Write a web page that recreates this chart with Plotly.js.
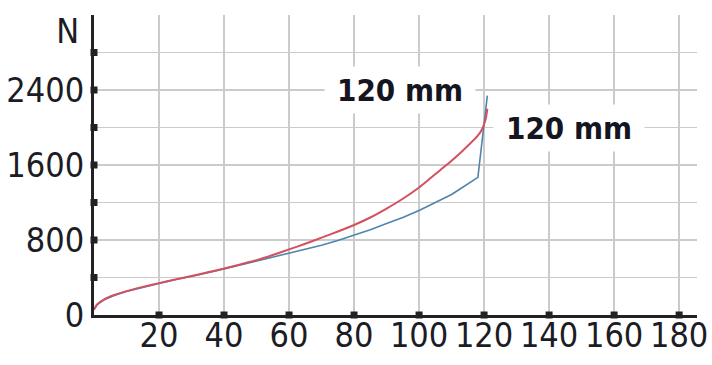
<!DOCTYPE html>
<html>
<head>
<meta charset="utf-8">
<script src="https://cdn.plot.ly/plotly-3.0.1.min.js"></script>
<style>
html,body{margin:0;padding:0;background:#fff;}
#chart{width:712px;height:365px;}
#chart svg text{font-stretch:condensed !important;}
</style>
</head>
<body>
<div id="chart"></div>
<script>
// Series: red curve
const redX = [0, 1, 3, 6, 10, 15, 20, 25, 30, 35, 40, 45, 50, 55, 60, 65, 70, 75, 80, 85, 90, 95, 100, 103, 106.5, 110, 112.6, 115, 118, 119.5, 120.5, 121];
const redY = [60, 115, 165, 210, 255, 300, 340, 380, 415, 455, 495, 540, 585, 640, 700, 760, 825, 890, 960, 1040, 1135, 1240, 1360, 1445, 1545, 1645, 1725, 1805, 1910, 1990, 2090, 2200];
// Series: blue curve
const blueX = [0, 1, 3, 6, 10, 15, 20, 25, 30, 35, 40, 45, 50, 55, 60, 65, 70, 75, 80, 85, 90, 95, 100, 103, 106.5, 110, 112.6, 115, 118.1, 121];
const blueY = [55, 110, 160, 205, 250, 295, 335, 375, 410, 450, 490, 532, 575, 615, 655, 700, 745, 795, 850, 910, 975, 1040, 1115, 1165, 1220, 1285, 1344, 1400, 1468, 2340];
// Ticks
const xTickVals = [20, 40, 60, 80, 100, 120, 140, 160, 180];
const xTickText = ['20', '40', '60', '80', '100', '120', '140', '160', '180'];
const yTickVals = [0, 400, 800, 1200, 1600, 2000, 2400, 2800];
const yTickText = ['0', '', '800', '', '1600', '', '2400', ''];
// Labels
const labelText = ['120 mm', '120 mm'];
const labelX = [94.2, 146];
const labelY = [2400, 2000];
const unitLabel = 'N';

const FONT = '"DejaVu Sans", sans-serif';
const INK = '#1c1c24';

const traces = [
  {x: blueX, y: blueY, mode: 'lines', line: {color: '#4f84ad', width: 1.6}, hoverinfo: 'skip'},
  {x: redX, y: redY, mode: 'lines', line: {color: '#d4505e', width: 2, shape: 'spline', smoothing: 0.6}, hoverinfo: 'skip'},
  {x: xTickVals, y: xTickVals.map(() => 0), mode: 'markers', cliponaxis: false,
   marker: {symbol: 'square', size: 7, color: '#222'}, hoverinfo: 'skip'},
  {x: yTickVals.slice(1).map(() => 0), y: yTickVals.slice(1), mode: 'markers', cliponaxis: false,
   marker: {symbol: 'square', size: 7, color: '#222'}, hoverinfo: 'skip'}
];

const annotations = labelText.map((t, i) => ({
  x: labelX[i], y: labelY[i], xref: 'x', yref: 'y', text: '<b>' + t + '</b>', showarrow: false,
  font: {family: FONT, size: 31, color: '#15151f'}, bgcolor: '#ffffff', borderpad: 5
}));
annotations.push({
  x: 0, y: 1, xref: 'paper', yref: 'paper', text: unitLabel, showarrow: false,
  xanchor: 'right', yanchor: 'middle', xshift: -12, yshift: -16,
  font: {family: FONT, size: 34, color: INK}
});

const layout = {
  width: 712, height: 365,
  margin: {l: 94, r: 15, t: 15, b: 50},
  paper_bgcolor: '#fff', plot_bgcolor: '#fff',
  showlegend: false,
  font: {family: FONT, size: 34, color: INK},
  xaxis: {
    range: [0, 185.5], tickvals: xTickVals, ticktext: xTickText, tickangle: 0,
    showgrid: true, gridcolor: '#cbcbcb', gridwidth: 1.5,
    showline: true, linecolor: '#222', linewidth: 3,
    zeroline: false, ticks: '', ticklabelstandoff: -12,
    tickfont: {family: FONT, size: 34, color: INK}
  },
  yaxis: {
    range: [0, 3200], tickvals: yTickVals, ticktext: yTickText,
    showgrid: true, gridcolor: '#cbcbcb', gridwidth: 1.5,
    showline: true, linecolor: '#222', linewidth: 3,
    zeroline: false, ticks: '', ticklabelstandoff: 0,
    tickfont: {family: FONT, size: 34, color: INK}
  },
  annotations: annotations
};

Plotly.newPlot('chart', traces, layout, {staticPlot: true, displayModeBar: false});
</script>
</body>
</html>
